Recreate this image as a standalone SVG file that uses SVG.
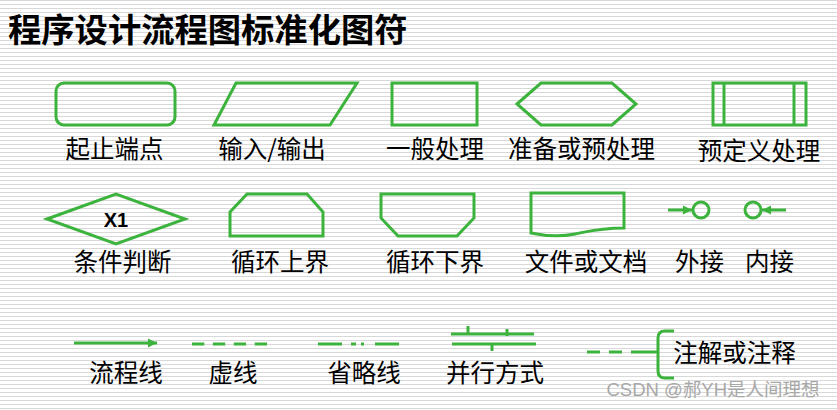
<svg xmlns="http://www.w3.org/2000/svg" width="837" height="410" viewBox="0 0 837 410">
<defs>
<pattern id="stripes" width="4" height="4" patternUnits="userSpaceOnUse">
<rect width="4" height="4" fill="#ffffff"/>
<rect y="0" width="4" height="1" fill="#d8d8d8"/>
</pattern>
<marker id="arr" markerWidth="10" markerHeight="10" refX="9" refY="5" orient="auto" markerUnits="userSpaceOnUse">
<path d="M0,0.5 L9,5 L0,9.5 Z" fill="#3cb33c"/>
</marker>
<style>
.s{fill:none;stroke:#3cb33c;stroke-width:3;stroke-linejoin:miter}
.ln{fill:none;stroke:#3cb33c;stroke-width:3}
.t{font-family:"Noto Sans CJK SC","Liberation Sans",sans-serif;font-size:24.5px;fill:#000;text-anchor:middle}
.title{font-family:"Noto Sans CJK SC","Liberation Sans",sans-serif;font-size:33.3px;font-weight:bold;fill:#000}
.wm{font-family:"Liberation Sans","Noto Sans CJK SC",sans-serif;font-size:18.5px;fill:#a8a8a8;text-anchor:middle}
</style>
</defs>
<rect width="837" height="410" fill="url(#stripes)"/>
<text class="title" x="8" y="42">程序设计流程图标准化图符</text>

<g id="terminal">
<rect class="s" x="56" y="83" width="119" height="42" rx="8"/>
<text class="t" x="114.5" y="158">起止端点</text>
</g>
<g id="io">
<polygon class="s" points="236,83 357,83 330,125 214,125"/>
<text class="t" x="272" y="158">输入/输出</text>
</g>
<g id="process">
<rect class="s" x="392" y="83" width="85" height="42"/>
<text class="t" x="435" y="158">一般处理</text>
</g>
<g id="preparation">
<polygon class="s" points="517,104 541,83 612,83 636,104 612,125 541,125"/>
<text class="t" x="581.5" y="158">准备或预处理</text>
</g>
<g id="predefined">
<rect class="s" x="713" y="83" width="93" height="42"/>
<line class="ln" x1="724" y1="83" x2="724" y2="125"/>
<line class="ln" x1="794" y1="83" x2="794" y2="125"/>
<text class="t" x="759" y="160">预定义处理</text>
</g>

<g id="decision">
<polygon class="s" points="47,219 116,194 185,219 116,244"/>
<text x="116" y="227" font-family="Liberation Sans, sans-serif" font-size="20" font-weight="bold" text-anchor="middle">X1</text>
<text class="t" x="122.5" y="271">条件判断</text>
</g>
<g id="loop-start">
<polygon class="s" points="230,212 247,194 307,194 323,212 323,236 230,236"/>
<text class="t" x="280" y="271">循环上界</text>
</g>
<g id="loop-end">
<polygon class="s" points="381,194 474,194 474,218 457,236 398,236 381,218"/>
<text class="t" x="435" y="271">循环下界</text>
</g>
<g id="document">
<path class="s" d="M531,233 V193 H624 V228 C600,228 590,231 575,234 C560,237 545,236 531,233 Z"/>
<text class="t" x="586" y="271">文件或文档</text>
</g>
<g id="connector-out">
<circle class="s" cx="701" cy="210" r="8"/>
<text class="t" x="699.5" y="271">外接</text>
</g>
<g id="connector-in">
<circle class="s" cx="753" cy="210" r="8"/>
<text class="t" x="769.5" y="271">内接</text>
</g>

<g id="flowline-sample">
<text class="t" x="126" y="382">流程线</text>
</g>
<g id="dashed-sample">
<line class="ln" x1="192" y1="344" x2="267" y2="344" stroke-dasharray="12.3 8.6"/>
<text class="t" x="233" y="382">虚线</text>
</g>
<g id="ellipsis-sample">
<line class="ln" x1="318" y1="344" x2="342" y2="344"/>
<line class="ln" x1="351" y1="344" x2="356" y2="344"/>
<line class="ln" x1="361" y1="344" x2="364" y2="344"/>
<line class="ln" x1="375" y1="344" x2="399" y2="344"/>
<text class="t" x="364" y="382">省略线</text>
</g>
<g id="parallel">
<line class="ln" x1="451" y1="334" x2="534" y2="334"/>
<line class="ln" x1="468" y1="326" x2="468" y2="334"/>
<line class="ln" x1="507" y1="329" x2="507" y2="336"/>
<line class="ln" x1="452" y1="344" x2="536" y2="344"/>
<line class="ln" x1="492" y1="344" x2="492" y2="351"/>
<text class="t" x="495" y="382">并行方式</text>
</g>
<g id="annotation">
<line class="ln" x1="587" y1="352" x2="640" y2="352" stroke-dasharray="13 9"/>
<line class="ln" x1="640" y1="352" x2="658" y2="352"/>
<path class="ln" d="M674,331 H665 Q658,331 658,338 V371 Q658,378 665,378 H674"/>
<text class="t" x="734.5" y="362">注解或注释</text>
</g>

<g id="connectors">
<line class="ln" x1="74" y1="343" x2="157" y2="343" marker-end="url(#arr)"/>
<line class="ln" x1="668" y1="210" x2="692" y2="210" marker-end="url(#arr)"/>
<line class="ln" x1="786" y1="210" x2="762" y2="210" marker-end="url(#arr)"/>
</g>

<text class="wm" x="713" y="396">CSDN @郝YH是人间理想</text>
</svg>
